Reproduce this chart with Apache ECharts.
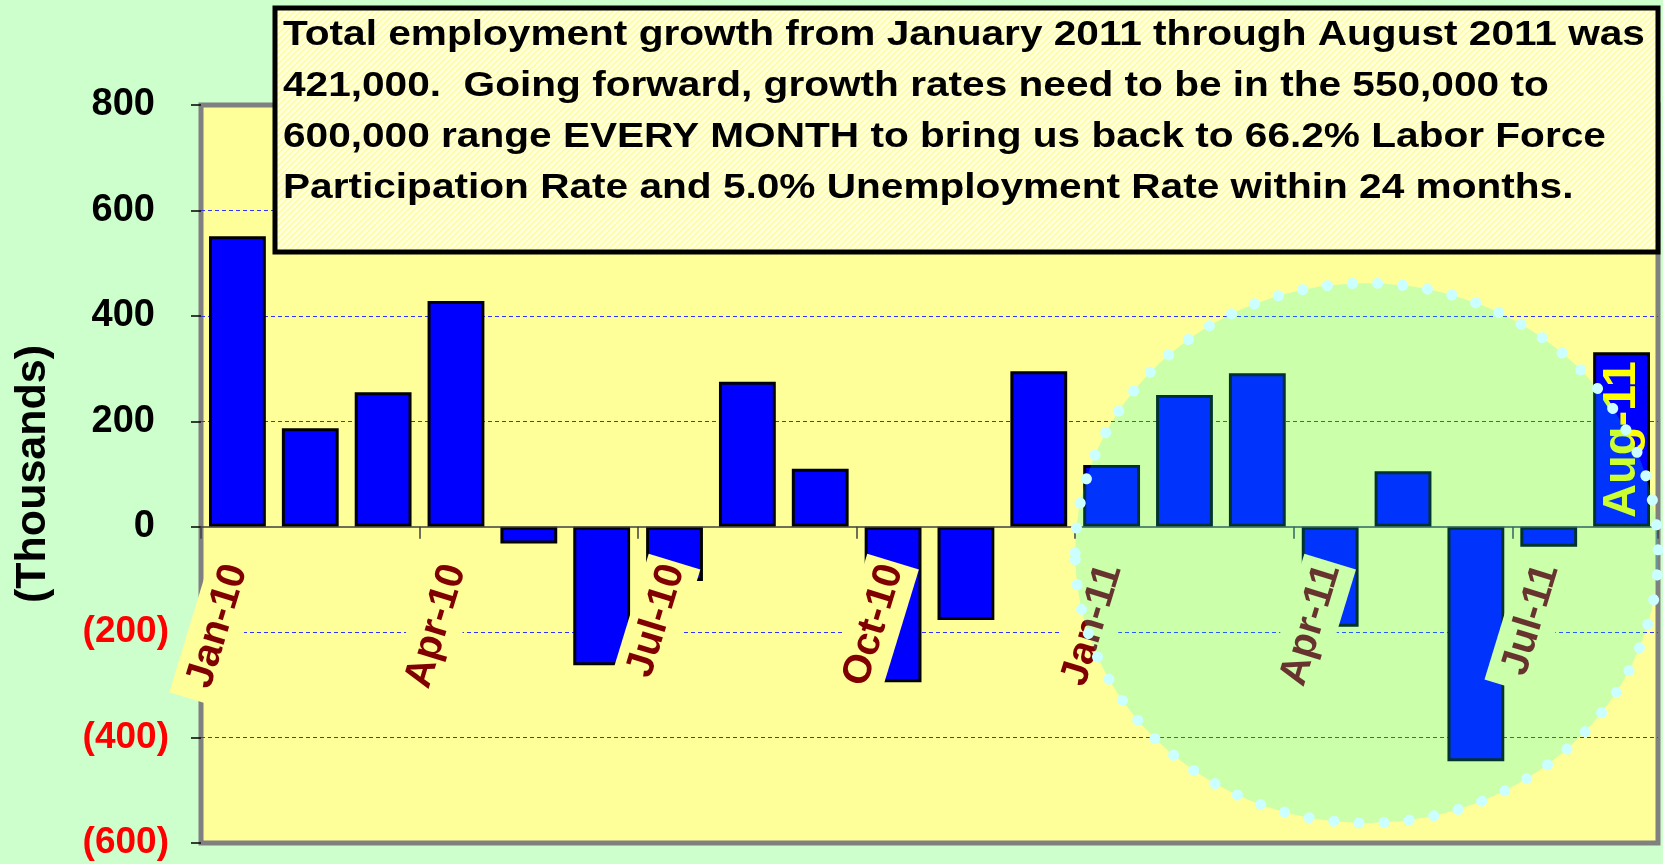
<!DOCTYPE html>
<html><head><meta charset="utf-8">
<script src="https://cdn.jsdelivr.net/npm/echarts@6/dist/echarts.min.js"></script>
<style>html,body{margin:0;padding:0;background:#CCFFCC;} #c{width:1663px;height:864px;}</style>
</head><body><div id="c"></div>
<script>
// ---- data ----
const months = ['Jan-10','Feb-10','Mar-10','Apr-10','May-10','Jun-10','Jul-10','Aug-10','Sep-10','Oct-10','Nov-10','Dec-10',
                'Jan-11','Feb-11','Mar-11','Apr-11','May-11','Jun-11','Jul-11','Aug-11'];
const changes = [551, 187, 255, 428, -32, -263, -103, 275, 110, -295, -177, 295,
                 117, 250, 291, -190, 105, -445, -38, 331];
const highlightMonth = 'Aug-11';
const yAxisName = '(Thousands)';
const yMin = -600, yMax = 800, yStep = 200;
const noteLines = [
  'Total employment growth from January 2011 through August 2011 was',
  '421,000.  Going forward, growth rates need to be in the 550,000 to',
  '600,000 range EVERY MONTH to bring us back to 66.2% Labor Force',
  'Participation Rate and 5.0% Unemployment Rate within 24 months.'
];
// highlight circle (in data terms): between these categories, around this value
const circleLeftCat = 'Apr-11', circleRightCat = 'May-11';
const circleCenterVal = -50, circleHalfWidthCats = 4, circleHalfHeightVal = 512;

const FONT = '"Liberation Sans", Arial, sans-serif';
const chart = echarts.init(document.getElementById('c'), null, {renderer: 'canvas'});

// hatch pattern for the note box
const pc = document.createElement('canvas'); pc.width = 6; pc.height = 6;
const g = pc.getContext('2d');
g.fillStyle = '#FFFFE8'; g.fillRect(0, 0, 6, 6);
g.strokeStyle = '#FFFF88'; g.lineWidth = 1.4;
g.beginPath(); g.moveTo(-1, 7); g.lineTo(7, -1); g.moveTo(-1, 1); g.lineTo(1, -1); g.moveTo(5, 7); g.lineTo(7, 5); g.stroke();

const barData = changes.map((v, i) => months[i] === highlightMonth ? {
  value: v,
  label: {show: true, formatter: months[i], position: ['50%', 9], rotate: 90, align: 'right', verticalAlign: 'middle',
          color: '#FFFF00', fontSize: 47, fontWeight: 'bold', fontFamily: FONT}
} : v);

chart.setOption({
  animation: false,
  backgroundColor: '#CCFFCC',
  grid: {left: 201, right: 5, top: 105, bottom: 21, containLabel: false, outerBoundsMode: 'none',
         show: true, backgroundColor: '#FFFF99', borderColor: '#808080', borderWidth: 5},
  xAxis: {
    type: 'category', data: months, z: 3, offset: 0,
    axisLine: {onZero: false, lineStyle: {color: '#404040', width: 1.5}},
    axisTick: {show: true, interval: 2, length: 12, lineStyle: {color: '#404040', width: 1.5}},
    axisLabel: {interval: 2, rotate: 73, margin: 35, color: '#800000', fontSize: 40, fontWeight: 'bold', fontFamily: FONT,
                backgroundColor: '#FFFF99', padding: [6, 4, 6, 14], lineHeight: 42},
    splitLine: {show: false}
  },
  yAxis: {
    type: 'value', min: yMin, max: yMax, interval: yStep,
    name: yAxisName, nameLocation: 'middle', nameGap: 146, nameRotate: 90,
    nameTextStyle: {fontSize: 43, fontWeight: 'bold', color: '#000', fontFamily: FONT},
    axisLine: {show: false},
    axisTick: {show: true, length: 10, lineStyle: {color: '#000', width: 1.5}},
    axisLabel: {
      margin: 32,
      formatter: v => v < 0 ? '{n|(' + Math.abs(v) + ')}' : '{p|' + v + '}',
      rich: {
        n: {color: '#FF0000', fontSize: 37, fontWeight: 'bold', fontFamily: FONT},
        p: {color: '#000000', fontSize: 38, fontWeight: 'bold', fontFamily: FONT, padding: [0, 14, 0, 0]}
      }
    },
    splitLine: {show: true, lineStyle: {color: ['rgba(0,0,0,0)', '#3333FF', '#3333FF', 'rgba(0,0,0,0)', '#3333FF', '#3333FF', '#3333FF', 'rgba(0,0,0,0)'], type: [4, 3], width: 1}}
  },
  series: [{
    type: 'bar', data: barData, barCategoryGap: '22%', z: 2,
    itemStyle: {color: '#0000FF', borderColor: '#000000', borderWidth: 3}
  }]
});

// move the category axis (line, ticks, labels) up to the zero value
const zeroPx = chart.convertToPixel({gridIndex: 0}, [months[0], 0])[1];
const minPx = chart.convertToPixel({gridIndex: 0}, [months[0], yMin])[1];
chart.setOption({xAxis: {offset: zeroPx - minPx}});

const pL = chart.convertToPixel({gridIndex: 0}, [circleLeftCat, circleCenterVal]);
const pR = chart.convertToPixel({gridIndex: 0}, [circleRightCat, circleCenterVal]);
const pB = chart.convertToPixel({gridIndex: 0}, [circleLeftCat, circleCenterVal - circleHalfHeightVal]);
const catW = pR[0] - pL[0];
const cx = (pL[0] + pR[0]) / 2, cy = pL[1];
const rx = circleHalfWidthCats * catW, ry = pB[1] - cy;

chart.setOption({
  graphic: [
    {type: 'ellipse', z: 50, silent: true, shape: {cx: cx, cy: cy, rx: rx, ry: ry},
     style: {fill: 'rgba(0,255,235,0.2)', stroke: null}},
    {type: 'ellipse', z: 51, silent: true, shape: {cx: cx, cy: cy, rx: rx, ry: ry},
     style: {fill: null, stroke: '#CCFFFF', lineWidth: 11, lineCap: 'round', lineDash: [0.1, 25]}},
    {type: 'rect', z: 60, silent: true, shape: {x: 275, y: 8, width: 1383, height: 244},
     style: {fill: {image: pc, repeat: 'repeat'}, stroke: '#000000', lineWidth: 5}},
    {type: 'text', z: 61, silent: true, x: 283, y: 10, scaleX: 1.16,
     style: {text: noteLines.join('\n'), x: 0, y: 0, fill: '#000000', font: 'bold 35px ' + FONT, lineHeight: 51, verticalAlign: 'top', align: 'left'}}
  ]
});
</script></body></html>
